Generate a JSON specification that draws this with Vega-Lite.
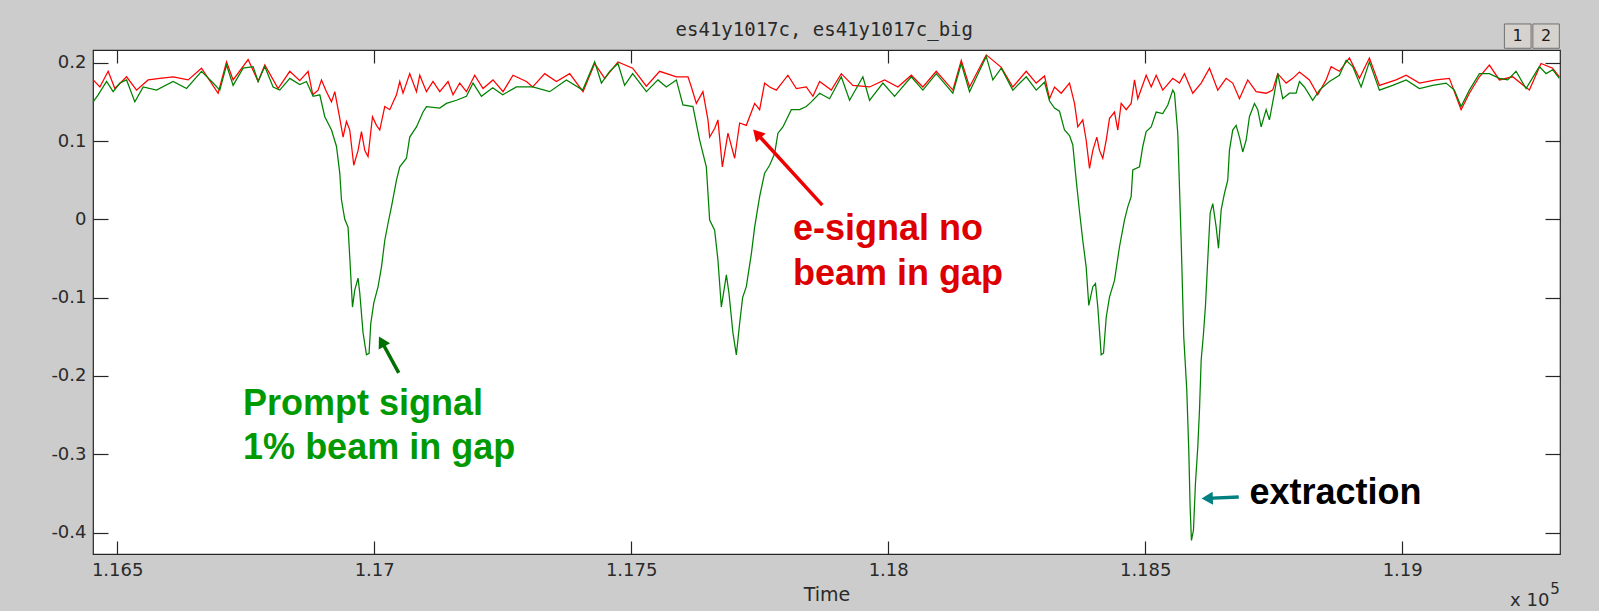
{
"$schema": "https://vega.github.io/schema/vega-lite/v6.json",
"width": 1467, "height": 504,
"autosize": {"type": "none"},
"padding": {"left": 93, "top": 50, "right": 39, "bottom": 57},
"background": "#cccccc",
"config": {
 "view": {"fill": "#ffffff", "stroke": "#262626", "strokeWidth": 1.2},
 "font": "DejaVu Sans",
 "axis": {"domain": false, "grid": false, "labelFont": "DejaVu Sans", "labelFontSize": 18, "labelColor": "#2a2a2a", "tickColor": "#262626", "tickWidth": 1.2, "labelFlush": false, "labelOverlap": false, "titleFont": "DejaVu Sans", "titleFontSize": 19, "titleFontWeight": "normal", "titleColor": "#2a2a2a"}
},
"datasets": {
 "traces": [
{"s":"r","t":1.164533,"v":0.178},{"s":"r","t":1.164664,"v":0.169},{"s":"r","t":1.164825,"v":0.189},{"s":"r","t":1.164955,"v":0.167},{"s":"r","t":1.165183,"v":0.182},{"s":"r","t":1.165377,"v":0.165},{"s":"r","t":1.165603,"v":0.178},{"s":"r","t":1.16583,"v":0.18},{"s":"r","t":1.166089,"v":0.182},{"s":"r","t":1.166381,"v":0.178},{"s":"r","t":1.166641,"v":0.193},{"s":"r","t":1.166964,"v":0.161},{"s":"r","t":1.167128,"v":0.201},{"s":"r","t":1.167256,"v":0.178},{"s":"r","t":1.167548,"v":0.204},{"s":"r","t":1.167742,"v":0.176},{"s":"r","t":1.167872,"v":0.197},{"s":"r","t":1.168131,"v":0.167},{"s":"r","t":1.168359,"v":0.189},{"s":"r","t":1.168553,"v":0.177},{"s":"r","t":1.168715,"v":0.189},{"s":"r","t":1.168806,"v":0.159},{"s":"r","t":1.168909,"v":0.165},{"s":"r","t":1.168975,"v":0.178},{"s":"r","t":1.169072,"v":0.163},{"s":"r","t":1.16917,"v":0.15},{"s":"r","t":1.169234,"v":0.163},{"s":"r","t":1.169331,"v":0.129},{"s":"r","t":1.169395,"v":0.105},{"s":"r","t":1.169461,"v":0.125},{"s":"r","t":1.169525,"v":0.114},{"s":"r","t":1.169603,"v":0.069},{"s":"r","t":1.169687,"v":0.088},{"s":"r","t":1.169753,"v":0.112},{"s":"r","t":1.169817,"v":0.088},{"s":"r","t":1.169881,"v":0.08},{"s":"r","t":1.169967,"v":0.131},{"s":"r","t":1.170045,"v":0.12},{"s":"r","t":1.170109,"v":0.114},{"s":"r","t":1.170206,"v":0.144},{"s":"r","t":1.170303,"v":0.14},{"s":"r","t":1.170434,"v":0.159},{"s":"r","t":1.170498,"v":0.176},{"s":"r","t":1.170562,"v":0.161},{"s":"r","t":1.170692,"v":0.186},{"s":"r","t":1.170823,"v":0.163},{"s":"r","t":1.170887,"v":0.184},{"s":"r","t":1.171017,"v":0.163},{"s":"r","t":1.171145,"v":0.176},{"s":"r","t":1.171276,"v":0.163},{"s":"r","t":1.171437,"v":0.176},{"s":"r","t":1.171534,"v":0.159},{"s":"r","t":1.171665,"v":0.174},{"s":"r","t":1.171795,"v":0.163},{"s":"r","t":1.171956,"v":0.184},{"s":"r","t":1.172118,"v":0.167},{"s":"r","t":1.172312,"v":0.178},{"s":"r","t":1.172507,"v":0.163},{"s":"r","t":1.172701,"v":0.184},{"s":"r","t":1.172962,"v":0.176},{"s":"r","t":1.173084,"v":0.169},{"s":"r","t":1.173318,"v":0.186},{"s":"r","t":1.173545,"v":0.176},{"s":"r","t":1.173804,"v":0.186},{"s":"r","t":1.174063,"v":0.163},{"s":"r","t":1.17429,"v":0.199},{"s":"r","t":1.174485,"v":0.18},{"s":"r","t":1.174743,"v":0.201},{"s":"r","t":1.175029,"v":0.193},{"s":"r","t":1.175296,"v":0.17},{"s":"r","t":1.175554,"v":0.189},{"s":"r","t":1.175879,"v":0.182},{"s":"r","t":1.176105,"v":0.182},{"s":"r","t":1.176171,"v":0.169},{"s":"r","t":1.176268,"v":0.148},{"s":"r","t":1.176396,"v":0.163},{"s":"r","t":1.176494,"v":0.127},{"s":"r","t":1.176527,"v":0.105},{"s":"r","t":1.176624,"v":0.116},{"s":"r","t":1.176688,"v":0.127},{"s":"r","t":1.176774,"v":0.067},{"s":"r","t":1.176883,"v":0.11},{"s":"r","t":1.177013,"v":0.078},{"s":"r","t":1.17711,"v":0.123},{"s":"r","t":1.17724,"v":0.12},{"s":"r","t":1.177402,"v":0.148},{"s":"r","t":1.177499,"v":0.14},{"s":"r","t":1.177596,"v":0.174},{"s":"r","t":1.177694,"v":0.169},{"s":"r","t":1.177824,"v":0.165},{"s":"r","t":1.178049,"v":0.184},{"s":"r","t":1.178213,"v":0.167},{"s":"r","t":1.178407,"v":0.169},{"s":"r","t":1.178536,"v":0.157},{"s":"r","t":1.178666,"v":0.176},{"s":"r","t":1.178893,"v":0.165},{"s":"r","t":1.179088,"v":0.186},{"s":"r","t":1.179313,"v":0.171},{"s":"r","t":1.179638,"v":0.169},{"s":"r","t":1.17993,"v":0.178},{"s":"r","t":1.180189,"v":0.169},{"s":"r","t":1.180449,"v":0.184},{"s":"r","t":1.180675,"v":0.169},{"s":"r","t":1.180935,"v":0.189},{"s":"r","t":1.181258,"v":0.165},{"s":"r","t":1.181422,"v":0.203},{"s":"r","t":1.181583,"v":0.169},{"s":"r","t":1.181908,"v":0.21},{"s":"r","t":1.1822,"v":0.194},{"s":"r","t":1.182425,"v":0.169},{"s":"r","t":1.182686,"v":0.189},{"s":"r","t":1.18288,"v":0.174},{"s":"r","t":1.183042,"v":0.183},{"s":"r","t":1.183139,"v":0.154},{"s":"r","t":1.183236,"v":0.169},{"s":"r","t":1.183366,"v":0.161},{"s":"r","t":1.183528,"v":0.174},{"s":"r","t":1.183625,"v":0.148},{"s":"r","t":1.183689,"v":0.118},{"s":"r","t":1.183786,"v":0.127},{"s":"r","t":1.183852,"v":0.101},{"s":"r","t":1.183917,"v":0.065},{"s":"r","t":1.183981,"v":0.088},{"s":"r","t":1.184059,"v":0.105},{"s":"r","t":1.184111,"v":0.088},{"s":"r","t":1.184175,"v":0.078},{"s":"r","t":1.184242,"v":0.101},{"s":"r","t":1.184306,"v":0.129},{"s":"r","t":1.184403,"v":0.137},{"s":"r","t":1.184467,"v":0.114},{"s":"r","t":1.184533,"v":0.148},{"s":"r","t":1.18463,"v":0.14},{"s":"r","t":1.184727,"v":0.148},{"s":"r","t":1.184792,"v":0.178},{"s":"r","t":1.184856,"v":0.154},{"s":"r","t":1.185019,"v":0.184},{"s":"r","t":1.185117,"v":0.169},{"s":"r","t":1.185214,"v":0.184},{"s":"r","t":1.185342,"v":0.165},{"s":"r","t":1.185537,"v":0.18},{"s":"r","t":1.185667,"v":0.174},{"s":"r","t":1.185764,"v":0.186},{"s":"r","t":1.185926,"v":0.161},{"s":"r","t":1.186089,"v":0.174},{"s":"r","t":1.186251,"v":0.193},{"s":"r","t":1.186412,"v":0.165},{"s":"r","t":1.186575,"v":0.18},{"s":"r","t":1.186703,"v":0.174},{"s":"r","t":1.186834,"v":0.154},{"s":"r","t":1.186995,"v":0.178},{"s":"r","t":1.187159,"v":0.163},{"s":"r","t":1.187353,"v":0.161},{"s":"r","t":1.187481,"v":0.165},{"s":"r","t":1.187579,"v":0.186},{"s":"r","t":1.187742,"v":0.174},{"s":"r","t":1.18787,"v":0.18},{"s":"r","t":1.188001,"v":0.188},{"s":"r","t":1.188195,"v":0.178},{"s":"r","t":1.188357,"v":0.159},{"s":"r","t":1.18852,"v":0.178},{"s":"r","t":1.188617,"v":0.195},{"s":"r","t":1.188778,"v":0.189},{"s":"r","t":1.188973,"v":0.206},{"s":"r","t":1.189168,"v":0.18},{"s":"r","t":1.189362,"v":0.206},{"s":"r","t":1.189557,"v":0.171},{"s":"r","t":1.189881,"v":0.178},{"s":"r","t":1.190076,"v":0.184},{"s":"r","t":1.190335,"v":0.174},{"s":"r","t":1.190659,"v":0.178},{"s":"r","t":1.190918,"v":0.18},{"s":"r","t":1.191146,"v":0.14},{"s":"r","t":1.191307,"v":0.161},{"s":"r","t":1.191502,"v":0.182},{"s":"r","t":1.191696,"v":0.197},{"s":"r","t":1.191891,"v":0.178},{"s":"r","t":1.192149,"v":0.182},{"s":"r","t":1.192474,"v":0.165},{"s":"r","t":1.192701,"v":0.199},{"s":"r","t":1.192927,"v":0.193},{"s":"r","t":1.193057,"v":0.182},
{"s":"g","t":1.164533,"v":0.15},{"s":"g","t":1.16463,"v":0.159},{"s":"g","t":1.164794,"v":0.176},{"s":"g","t":1.164922,"v":0.163},{"s":"g","t":1.165053,"v":0.174},{"s":"g","t":1.165183,"v":0.178},{"s":"g","t":1.165344,"v":0.15},{"s":"g","t":1.165506,"v":0.169},{"s":"g","t":1.165766,"v":0.165},{"s":"g","t":1.166089,"v":0.176},{"s":"g","t":1.16635,"v":0.167},{"s":"g","t":1.166641,"v":0.189},{"s":"g","t":1.166867,"v":0.174},{"s":"g","t":1.166997,"v":0.165},{"s":"g","t":1.167128,"v":0.197},{"s":"g","t":1.167256,"v":0.171},{"s":"g","t":1.16745,"v":0.193},{"s":"g","t":1.167645,"v":0.195},{"s":"g","t":1.167742,"v":0.176},{"s":"g","t":1.167872,"v":0.195},{"s":"g","t":1.168034,"v":0.169},{"s":"g","t":1.168164,"v":0.165},{"s":"g","t":1.168359,"v":0.18},{"s":"g","t":1.168553,"v":0.172},{"s":"g","t":1.168683,"v":0.176},{"s":"g","t":1.168812,"v":0.157},{"s":"g","t":1.168942,"v":0.159},{"s":"g","t":1.169039,"v":0.131},{"s":"g","t":1.16917,"v":0.114},{"s":"g","t":1.169267,"v":0.093},{"s":"g","t":1.169331,"v":0.059},{"s":"g","t":1.169364,"v":0.025},{"s":"g","t":1.169428,"v":0.0},{"s":"g","t":1.169492,"v":-0.01},{"s":"g","t":1.169525,"v":-0.048},{"s":"g","t":1.169578,"v":-0.112},{"s":"g","t":1.169623,"v":-0.09},{"s":"g","t":1.169687,"v":-0.075},{"s":"g","t":1.16972,"v":-0.094},{"s":"g","t":1.169784,"v":-0.145},{"s":"g","t":1.16985,"v":-0.173},{"s":"g","t":1.169901,"v":-0.171},{"s":"g","t":1.169934,"v":-0.133},{"s":"g","t":1.169992,"v":-0.107},{"s":"g","t":1.170076,"v":-0.086},{"s":"g","t":1.170142,"v":-0.061},{"s":"g","t":1.170206,"v":-0.027},{"s":"g","t":1.17027,"v":-0.005},{"s":"g","t":1.170336,"v":0.016},{"s":"g","t":1.170434,"v":0.05},{"s":"g","t":1.170498,"v":0.067},{"s":"g","t":1.170628,"v":0.078},{"s":"g","t":1.170692,"v":0.105},{"s":"g","t":1.170823,"v":0.118},{"s":"g","t":1.170951,"v":0.137},{"s":"g","t":1.171017,"v":0.144},{"s":"g","t":1.171276,"v":0.142},{"s":"g","t":1.171406,"v":0.148},{"s":"g","t":1.171601,"v":0.152},{"s":"g","t":1.171795,"v":0.157},{"s":"g","t":1.171923,"v":0.174},{"s":"g","t":1.172087,"v":0.157},{"s":"g","t":1.172306,"v":0.168},{"s":"g","t":1.172501,"v":0.159},{"s":"g","t":1.172767,"v":0.169},{"s":"g","t":1.173084,"v":0.169},{"s":"g","t":1.173415,"v":0.163},{"s":"g","t":1.17374,"v":0.178},{"s":"g","t":1.174057,"v":0.165},{"s":"g","t":1.17429,"v":0.201},{"s":"g","t":1.174421,"v":0.174},{"s":"g","t":1.174582,"v":0.189},{"s":"g","t":1.174743,"v":0.199},{"s":"g","t":1.174873,"v":0.171},{"s":"g","t":1.175029,"v":0.186},{"s":"g","t":1.175296,"v":0.163},{"s":"g","t":1.175521,"v":0.178},{"s":"g","t":1.175684,"v":0.169},{"s":"g","t":1.175879,"v":0.178},{"s":"g","t":1.176007,"v":0.146},{"s":"g","t":1.176202,"v":0.144},{"s":"g","t":1.176332,"v":0.101},{"s":"g","t":1.176462,"v":0.067},{"s":"g","t":1.176527,"v":-0.001},{"s":"g","t":1.176624,"v":-0.014},{"s":"g","t":1.176688,"v":-0.052},{"s":"g","t":1.176754,"v":-0.112},{"s":"g","t":1.176852,"v":-0.071},{"s":"g","t":1.176902,"v":-0.094},{"s":"g","t":1.17698,"v":-0.145},{"s":"g","t":1.177046,"v":-0.173},{"s":"g","t":1.17711,"v":-0.133},{"s":"g","t":1.177168,"v":-0.1},{"s":"g","t":1.17724,"v":-0.086},{"s":"g","t":1.177338,"v":-0.044},{"s":"g","t":1.177402,"v":-0.01},{"s":"g","t":1.177499,"v":0.029},{"s":"g","t":1.177596,"v":0.059},{"s":"g","t":1.177694,"v":0.069},{"s":"g","t":1.177791,"v":0.084},{"s":"g","t":1.177855,"v":0.11},{"s":"g","t":1.177952,"v":0.118},{"s":"g","t":1.178116,"v":0.14},{"s":"g","t":1.178277,"v":0.14},{"s":"g","t":1.178407,"v":0.144},{"s":"g","t":1.178505,"v":0.15},{"s":"g","t":1.178666,"v":0.161},{"s":"g","t":1.17886,"v":0.154},{"s":"g","t":1.179088,"v":0.182},{"s":"g","t":1.179249,"v":0.152},{"s":"g","t":1.179508,"v":0.182},{"s":"g","t":1.179638,"v":0.152},{"s":"g","t":1.179897,"v":0.174},{"s":"g","t":1.180124,"v":0.157},{"s":"g","t":1.180449,"v":0.182},{"s":"g","t":1.180675,"v":0.165},{"s":"g","t":1.180935,"v":0.186},{"s":"g","t":1.181258,"v":0.161},{"s":"g","t":1.181422,"v":0.199},{"s":"g","t":1.181583,"v":0.163},{"s":"g","t":1.181908,"v":0.208},{"s":"g","t":1.182036,"v":0.178},{"s":"g","t":1.1822,"v":0.193},{"s":"g","t":1.182425,"v":0.165},{"s":"g","t":1.182686,"v":0.182},{"s":"g","t":1.18288,"v":0.165},{"s":"g","t":1.183042,"v":0.175},{"s":"g","t":1.183139,"v":0.151},{"s":"g","t":1.183236,"v":0.142},{"s":"g","t":1.183333,"v":0.138},{"s":"g","t":1.18343,"v":0.114},{"s":"g","t":1.183528,"v":0.107},{"s":"g","t":1.183592,"v":0.095},{"s":"g","t":1.183658,"v":0.05},{"s":"g","t":1.183722,"v":0.01},{"s":"g","t":1.183786,"v":-0.027},{"s":"g","t":1.183852,"v":-0.061},{"s":"g","t":1.183903,"v":-0.11},{"s":"g","t":1.183981,"v":-0.086},{"s":"g","t":1.184033,"v":-0.082},{"s":"g","t":1.184078,"v":-0.112},{"s":"g","t":1.184144,"v":-0.173},{"s":"g","t":1.184189,"v":-0.171},{"s":"g","t":1.184242,"v":-0.125},{"s":"g","t":1.184306,"v":-0.099},{"s":"g","t":1.184403,"v":-0.078},{"s":"g","t":1.1845,"v":-0.035},{"s":"g","t":1.184597,"v":-0.001},{"s":"g","t":1.184661,"v":0.016},{"s":"g","t":1.184727,"v":0.029},{"s":"g","t":1.184759,"v":0.063},{"s":"g","t":1.184889,"v":0.067},{"s":"g","t":1.184953,"v":0.093},{"s":"g","t":1.185019,"v":0.112},{"s":"g","t":1.185117,"v":0.118},{"s":"g","t":1.185214,"v":0.137},{"s":"g","t":1.185342,"v":0.135},{"s":"g","t":1.18544,"v":0.146},{"s":"g","t":1.185537,"v":0.165},{"s":"g","t":1.18557,"v":0.161},{"s":"g","t":1.185634,"v":0.11},{"s":"g","t":1.1857,"v":-0.027},{"s":"g","t":1.18575,"v":-0.15},{"s":"g","t":1.185809,"v":-0.218},{"s":"g","t":1.185848,"v":-0.295},{"s":"g","t":1.185875,"v":-0.369},{"s":"g","t":1.1859,"v":-0.41},{"s":"g","t":1.185939,"v":-0.397},{"s":"g","t":1.185978,"v":-0.337},{"s":"g","t":1.186023,"v":-0.291},{"s":"g","t":1.186056,"v":-0.244},{"s":"g","t":1.186089,"v":-0.18},{"s":"g","t":1.186134,"v":-0.146},{"s":"g","t":1.186173,"v":-0.11},{"s":"g","t":1.186217,"v":-0.052},{"s":"g","t":1.186264,"v":0.008},{"s":"g","t":1.186315,"v":0.02},{"s":"g","t":1.186381,"v":-0.01},{"s":"g","t":1.186426,"v":-0.037},{"s":"g","t":1.186478,"v":0.012},{"s":"g","t":1.186542,"v":0.033},{"s":"g","t":1.186606,"v":0.05},{"s":"g","t":1.186639,"v":0.088},{"s":"g","t":1.186703,"v":0.114},{"s":"g","t":1.186769,"v":0.12},{"s":"g","t":1.186834,"v":0.105},{"s":"g","t":1.186898,"v":0.086},{"s":"g","t":1.186964,"v":0.101},{"s":"g","t":1.187028,"v":0.131},{"s":"g","t":1.187126,"v":0.148},{"s":"g","t":1.18719,"v":0.14},{"s":"g","t":1.187256,"v":0.118},{"s":"g","t":1.187353,"v":0.14},{"s":"g","t":1.187417,"v":0.127},{"s":"g","t":1.187514,"v":0.161},{"s":"g","t":1.187579,"v":0.186},{"s":"g","t":1.187676,"v":0.154},{"s":"g","t":1.187806,"v":0.161},{"s":"g","t":1.187936,"v":0.161},{"s":"g","t":1.188001,"v":0.176},{"s":"g","t":1.188098,"v":0.169},{"s":"g","t":1.188259,"v":0.152},{"s":"g","t":1.18839,"v":0.165},{"s":"g","t":1.188584,"v":0.176},{"s":"g","t":1.188778,"v":0.184},{"s":"g","t":1.188909,"v":0.203},{"s":"g","t":1.189037,"v":0.195},{"s":"g","t":1.189201,"v":0.169},{"s":"g","t":1.189362,"v":0.201},{"s":"g","t":1.189557,"v":0.165},{"s":"g","t":1.189815,"v":0.171},{"s":"g","t":1.190076,"v":0.178},{"s":"g","t":1.190335,"v":0.167},{"s":"g","t":1.190593,"v":0.171},{"s":"g","t":1.190854,"v":0.174},{"s":"g","t":1.191015,"v":0.165},{"s":"g","t":1.191146,"v":0.144},{"s":"g","t":1.191307,"v":0.165},{"s":"g","t":1.191502,"v":0.186},{"s":"g","t":1.191696,"v":0.186},{"s":"g","t":1.191891,"v":0.18},{"s":"g","t":1.192052,"v":0.178},{"s":"g","t":1.192215,"v":0.189},{"s":"g","t":1.19241,"v":0.167},{"s":"g","t":1.192668,"v":0.195},{"s":"g","t":1.192799,"v":0.186},{"s":"g","t":1.192927,"v":0.191},{"s":"g","t":1.193057,"v":0.18}
 ],
 "notes": [
  {"who":"prompt","line":"Prompt signal","t":1.16745,"v":-0.25011},
  {"who":"prompt","line":"1% beam in gap","t":1.16745,"v":-0.30543},
  {"who":"esignal","line":"e-signal no","t":1.178147,"v":-0.02652},
  {"who":"esignal","line":"beam in gap","t":1.178147,"v":-0.08402},
  {"who":"extraction","line":"extraction","t":1.187028,"v":-0.36292}
 ],
 "arrows": [
  {"who":"prompt","t1":1.170478,"v1":-0.19607,"t2":1.170146,"v2":-0.15595},
  {"who":"esignal","t1":1.178719,"v1":0.01819,"t2":1.177448,"v2":0.10929},
  {"who":"extraction","t1":1.18682,"v1":-0.35449,"t2":1.186206,"v2":-0.35628}
 ],
 "buttons": [
  {"b":"1","t1":1.191988,"t2":1.192507,"v1":0.24944,"v2":0.2184,"tc":1.192246,"vc":0.22734},
  {"b":"2","t1":1.192542,"t2":1.193057,"v1":0.24944,"v2":0.2184,"tc":1.192799,"vc":0.22734}
 ],
 "labels": [
  {"part":"title","txt":"es41y1017c, es41y1017c_big","t":1.178757,"v":0.23411},
  {"part":"base","txt":"x 10","t":1.192863,"v":-0.49414},
  {"part":"power","txt":"5","t":1.192882,"v":-0.47881}
 ]
},
"layer": [
 {
  "data": {"name": "traces"},
  "transform": [{"filter": "datum.s === 'r'"}],
  "mark": {"type": "line", "color": "#ff0000", "strokeWidth": 1.25},
  "encoding": {
   "x": {"field": "t", "type": "quantitative", "scale": {"domain": [1.16453, 1.19307], "nice": false, "zero": false},
         "axis": {"orient": "bottom", "values": [1.165, 1.17, 1.175, 1.18, 1.185, 1.19], "labelExpr": "'' + datum.value", "tickSize": -13, "labelPadding": 20.5, "title": "Time", "titlePadding": 6}},
   "y": {"field": "v", "type": "quantitative", "scale": {"domain": [-0.4273, 0.2162], "nice": false, "zero": false},
         "axis": {"orient": "left", "values": [-0.4, -0.3, -0.2, -0.1, 0, 0.1, 0.2], "labelExpr": "'' + datum.value", "tickSize": -15, "labelPadding": 22, "title": null}}
  }
 },
 {
  "data": {"name": "traces"},
  "transform": [{"filter": "datum.s === 'g'"}],
  "mark": {"type": "line", "color": "#008000", "strokeWidth": 1.25},
  "encoding": {
   "x": {"field": "t", "type": "quantitative",
         "axis": {"orient": "top", "values": [1.165, 1.17, 1.175, 1.18, 1.185, 1.19], "labels": false, "tickSize": -13, "title": null}},
   "y": {"field": "v", "type": "quantitative",
         "axis": {"orient": "right", "values": [-0.4, -0.3, -0.2, -0.1, 0, 0.1, 0.2], "labels": false, "tickSize": -15, "title": null}}
  }
 },
 {
  "data": {"name": "arrows"},
  "mark": {"type": "rule", "strokeWidth": 3.5},
  "encoding": {
   "x": {"field": "t1", "type": "quantitative", "axis": null},
   "y": {"field": "v1", "type": "quantitative", "axis": null},
   "x2": {"field": "t2"},
   "y2": {"field": "v2"},
   "stroke": {"field": "who", "type": "nominal", "scale": {"domain": ["prompt", "esignal", "extraction"], "range": ["#007000", "#ee0000", "#008080"]}, "legend": null}
  }
 },
 {
  "data": {"name": "arrows"},
  "transform": [{"filter": "datum.who === 'prompt'"}],
  "mark": {"type": "point", "shape": "triangle-up", "filled": true, "size": 170, "angle": 331, "color": "#007000", "opacity": 1},
  "encoding": {"x": {"field": "t2", "type": "quantitative", "axis": null}, "y": {"field": "v2", "type": "quantitative", "axis": null}}
 },
 {
  "data": {"name": "arrows"},
  "transform": [{"filter": "datum.who === 'esignal'"}],
  "mark": {"type": "point", "shape": "triangle-up", "filled": true, "size": 170, "angle": 317.5, "color": "#ee0000", "opacity": 1},
  "encoding": {"x": {"field": "t2", "type": "quantitative", "axis": null}, "y": {"field": "v2", "type": "quantitative", "axis": null}}
 },
 {
  "data": {"name": "arrows"},
  "transform": [{"filter": "datum.who === 'extraction'"}],
  "mark": {"type": "point", "shape": "triangle-up", "filled": true, "size": 170, "angle": 268, "color": "#008080", "opacity": 1},
  "encoding": {"x": {"field": "t2", "type": "quantitative", "axis": null}, "y": {"field": "v2", "type": "quantitative", "axis": null}}
 },
 {
  "data": {"name": "notes"},
  "mark": {"type": "text", "align": "left", "baseline": "alphabetic", "font": "Liberation Sans", "fontWeight": "bold", "fontSize": 36},
  "encoding": {
   "x": {"field": "t", "type": "quantitative", "axis": null},
   "y": {"field": "v", "type": "quantitative", "axis": null},
   "text": {"field": "line"},
   "color": {"field": "who", "type": "nominal", "scale": {"domain": ["prompt", "esignal", "extraction"], "range": ["#009900", "#dd0000", "#000000"]}, "legend": null}
  }
 },
 {
  "data": {"name": "buttons"},
  "mark": {"type": "rect", "fill": "#d6d3ce", "stroke": "#6f6f6f", "strokeWidth": 1},
  "encoding": {
   "x": {"field": "t1", "type": "quantitative", "axis": null},
   "x2": {"field": "t2"},
   "y": {"field": "v1", "type": "quantitative", "axis": null},
   "y2": {"field": "v2"}
  }
 },
 {
  "data": {"name": "buttons"},
  "mark": {"type": "text", "align": "center", "baseline": "alphabetic", "font": "DejaVu Sans", "fontSize": 16, "color": "#1a1a1a"},
  "encoding": {
   "x": {"field": "tc", "type": "quantitative", "axis": null},
   "y": {"field": "vc", "type": "quantitative", "axis": null},
   "text": {"field": "b"}
  }
 },
 {
  "data": {"name": "labels"},
  "transform": [{"filter": "datum.part === 'title'"}],
  "mark": {"type": "text", "align": "center", "baseline": "alphabetic", "font": "DejaVu Sans Mono", "fontSize": 19, "color": "#2a2a2a"},
  "encoding": {
   "x": {"field": "t", "type": "quantitative", "axis": null},
   "y": {"field": "v", "type": "quantitative", "axis": null},
   "text": {"field": "txt"}
  }
 },
 {
  "data": {"name": "labels"},
  "transform": [{"filter": "datum.part === 'base'"}],
  "mark": {"type": "text", "align": "right", "baseline": "alphabetic", "font": "DejaVu Sans", "fontSize": 18, "color": "#2a2a2a"},
  "encoding": {
   "x": {"field": "t", "type": "quantitative", "axis": null},
   "y": {"field": "v", "type": "quantitative", "axis": null},
   "text": {"field": "txt"}
  }
 },
 {
  "data": {"name": "labels"},
  "transform": [{"filter": "datum.part === 'power'"}],
  "mark": {"type": "text", "align": "left", "baseline": "alphabetic", "font": "DejaVu Sans", "fontSize": 15, "color": "#2a2a2a"},
  "encoding": {
   "x": {"field": "t", "type": "quantitative", "axis": null},
   "y": {"field": "v", "type": "quantitative", "axis": null},
   "text": {"field": "txt"}
  }
 }
],
"resolve": {"axis": {"x": "independent", "y": "independent"}}
}
